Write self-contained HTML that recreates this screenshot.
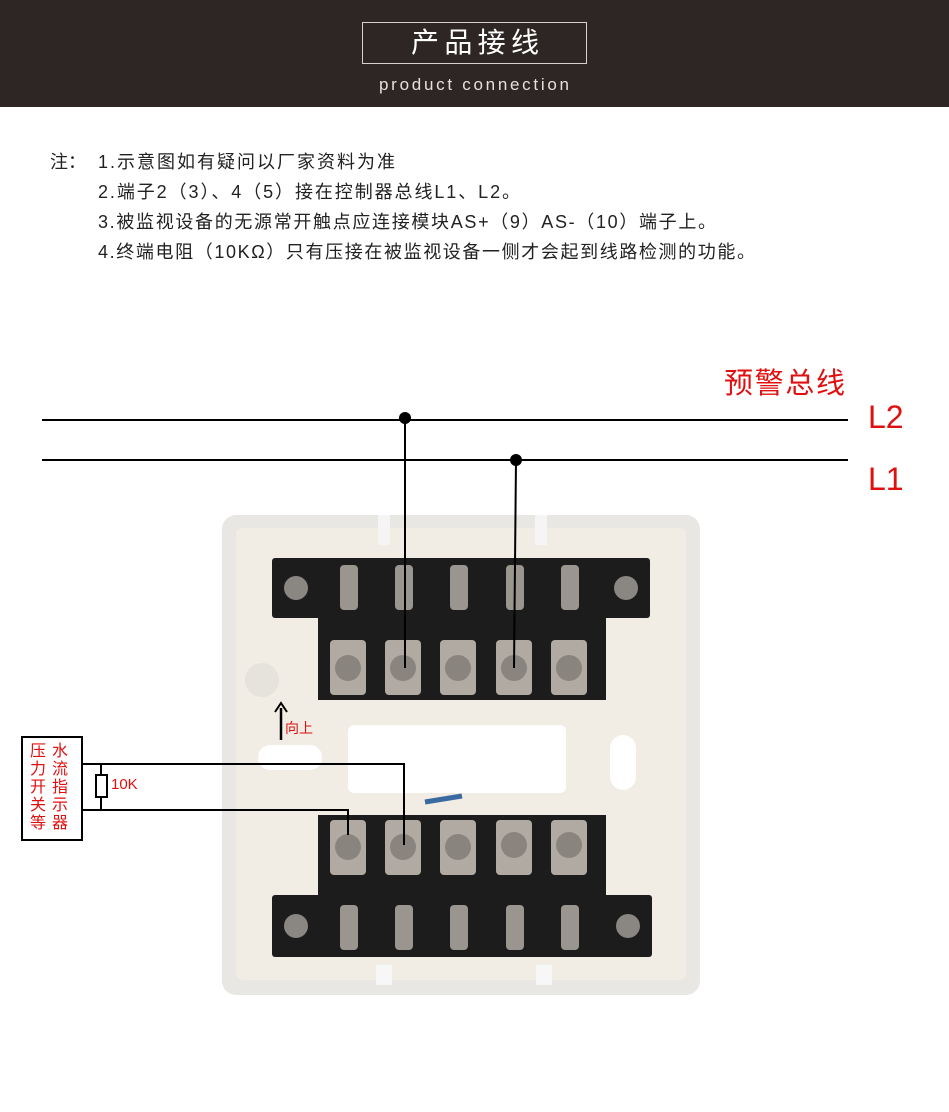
<!DOCTYPE html>
<html><head><meta charset="utf-8"><style>
body{margin:0;width:949px;height:1107px;background:#fff;overflow:hidden;font-family:"Liberation Sans","Noto Sans CJK SC",sans-serif}
</style></head><body>
<svg width="949" height="1107" xmlns="http://www.w3.org/2000/svg" font-family="'Liberation Sans','Noto Sans CJK SC',sans-serif">
<rect x="0" y="0" width="949" height="107" fill="#2e2624"/>
<rect x="362.5" y="22.5" width="224" height="41" fill="none" stroke="#d8d2cf" stroke-width="1"/>
<text x="475" y="52" fill="#fff" font-size="28" text-anchor="middle" textLength="128" lengthAdjust="spacing">产品接线</text>
<text x="474" y="90" fill="#e6e0dd" font-size="17" text-anchor="middle" textLength="190" lengthAdjust="spacing">product connection</text>
<g font-size="18" fill="#222">
<text x="50" y="168">注：</text>
<text x="98" y="168" textLength="297" lengthAdjust="spacing">1.示意图如有疑问以厂家资料为准</text>
<text x="98" y="198" textLength="422" lengthAdjust="spacing">2.端子2（3）、4（5）接在控制器总线L1、L2。</text>
<text x="98" y="228" textLength="618" lengthAdjust="spacing">3.被监视设备的无源常开触点应连接模块AS+（9）AS-（10）端子上。</text>
<text x="98" y="258" textLength="657" lengthAdjust="spacing">4.终端电阻（10KΩ）只有压接在被监视设备一侧才会起到线路检测的功能。</text>
</g>
<text x="724" y="393" font-size="29" fill="#e01010" textLength="121" lengthAdjust="spacing">预警总线</text>
<text x="868" y="428" font-size="32" fill="#e01010">L2</text>
<text x="868" y="490" font-size="32" fill="#e01010">L1</text>
<rect x="222" y="515" width="478" height="480" rx="14" fill="#e9e7e4"/>
<rect x="236" y="528" width="450" height="452" rx="6" fill="#f1ece4"/>
<rect x="378" y="515" width="12" height="30" fill="#f5f5f5"/>
<rect x="535" y="515" width="12" height="30" fill="#f5f5f5"/>
<rect x="376" y="965" width="16" height="20" fill="#f7f7f7"/>
<rect x="536" y="965" width="16" height="20" fill="#f7f7f7"/>
<rect x="348" y="725" width="218" height="68" rx="6" fill="#fff"/>
<rect x="258" y="745" width="64" height="25" rx="12" fill="#fff"/>
<rect x="610" y="735" width="26" height="55" rx="13" fill="#fff"/>
<circle cx="262" cy="680" r="17" fill="#e6e2dc"/>
<rect x="272" y="558" width="378" height="60" rx="3" fill="#1c1c1c"/>
<rect x="318" y="615" width="288" height="85" fill="#1c1c1c"/>
<circle cx="296" cy="588" r="12" fill="#8a8682"/><circle cx="626" cy="588" r="12" fill="#8a8682"/>
<g fill="#9a958f">
<rect x="340" y="565" width="18" height="45" rx="4"/><rect x="395" y="565" width="18" height="45" rx="4"/><rect x="450" y="565" width="18" height="45" rx="4"/><rect x="506" y="565" width="18" height="45" rx="4"/><rect x="561" y="565" width="18" height="45" rx="4"/>
</g>
<g fill="#b0aaa3">
<rect x="330" y="640" width="36" height="55" rx="4"/><rect x="385" y="640" width="36" height="55" rx="4"/><rect x="440" y="640" width="36" height="55" rx="4"/><rect x="496" y="640" width="36" height="55" rx="4"/><rect x="551" y="640" width="36" height="55" rx="4"/>
</g>
<g fill="#8a847e"><circle cx="348" cy="668" r="13"/><circle cx="403" cy="668" r="13"/><circle cx="458" cy="668" r="13"/><circle cx="514" cy="668" r="13"/><circle cx="569" cy="668" r="13"/></g>
<rect x="318" y="815" width="288" height="85" fill="#1c1c1c"/>
<rect x="272" y="895" width="380" height="62" rx="3" fill="#1c1c1c"/>
<circle cx="296" cy="926" r="12" fill="#8a8682"/><circle cx="628" cy="926" r="12" fill="#8a8682"/>
<g fill="#b0aaa3">
<rect x="330" y="820" width="36" height="55" rx="4"/><rect x="385" y="820" width="36" height="55" rx="4"/><rect x="440" y="820" width="36" height="55" rx="4"/><rect x="496" y="820" width="36" height="55" rx="4"/><rect x="551" y="820" width="36" height="55" rx="4"/>
</g>
<g fill="#8a847e"><circle cx="348" cy="847" r="13"/><circle cx="403" cy="847" r="13"/><circle cx="458" cy="847" r="13"/><circle cx="514" cy="845" r="13"/><circle cx="569" cy="845" r="13"/></g>
<g fill="#9a958f">
<rect x="340" y="905" width="18" height="45" rx="4"/><rect x="395" y="905" width="18" height="45" rx="4"/><rect x="450" y="905" width="18" height="45" rx="4"/><rect x="506" y="905" width="18" height="45" rx="4"/><rect x="561" y="905" width="18" height="45" rx="4"/>
</g>
<line x1="425" y1="802" x2="462" y2="796" stroke="#3a6aa0" stroke-width="5"/>
<g stroke="#000" stroke-width="2" fill="none">
<line x1="42" y1="420" x2="848" y2="420"/>
<line x1="42" y1="460" x2="848" y2="460"/>
<line x1="405" y1="418" x2="405" y2="668"/>
<line x1="516" y1="460" x2="514" y2="668"/>
<polyline points="82,764 404,764 404,845"/>
<polyline points="82,810 348,810 348,835"/>
<line x1="101" y1="764" x2="101" y2="810"/>
<rect x="22" y="737" width="60" height="103" stroke-width="2"/>
</g>
<rect x="96" y="775" width="11" height="22" fill="#fff" stroke="#000" stroke-width="2"/>
<circle cx="405" cy="418" r="6" fill="#000"/><circle cx="516" cy="460" r="6" fill="#000"/>
<line x1="281" y1="740" x2="281" y2="708" stroke="#000" stroke-width="2.5"/>
<path d="M275,712 L281,703 L287,712" fill="none" stroke="#000" stroke-width="2"/>
<text x="285" y="733" font-size="14" fill="#e01010">向上</text>
<text x="111" y="789" font-size="15" fill="#e01010">10K</text>
<g font-size="16" fill="#e01010" text-anchor="middle">
<text x="38" y="756">压</text><text x="38" y="774">力</text><text x="38" y="792">开</text><text x="38" y="810">关</text><text x="38" y="828">等</text>
<text x="60" y="756">水</text><text x="60" y="774">流</text><text x="60" y="792">指</text><text x="60" y="810">示</text><text x="60" y="828">器</text>
</g>
</svg>
</body></html>
